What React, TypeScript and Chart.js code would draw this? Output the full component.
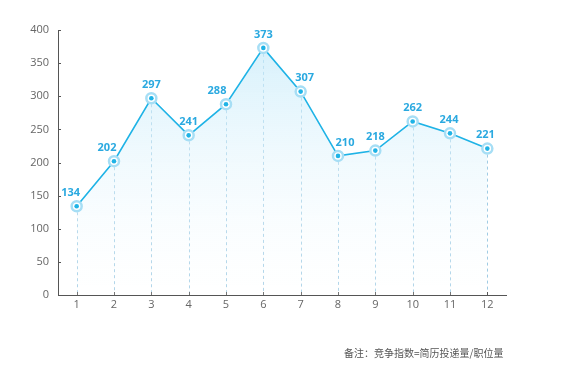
import React, { useEffect, useRef } from "react";
import { Chart, registerables } from "chart.js";
Chart.register(...registerables);

const categories = ["1", "2", "3", "4", "5", "6", "7", "8", "9", "10", "11", "12"];
const values = [134, 202, 297, 241, 288, 373, 307, 210, 218, 262, 244, 221];
const yTicks = [0, 50, 100, 150, 200, 250, 300, 350, 400];
const note = "备注：竞争指数=简历投递量/职位量";

const LINE = "#1fb3e6";
const LABEL = "#2aa9e0";
const FONT = "'Open Sans', 'Noto Sans', sans-serif";
// horizontal nudges of value labels (style, keeps labels off the line)
const labelNudge = [-6, -7, 0, 0, -9, 0, 4, 7, 0, 0, -1, -2];

const decor = {
  id: "decor",
  beforeDatasetsDraw(chart: any) {
    const { ctx, chartArea } = chart;
    const meta = chart.getDatasetMeta(0);
    ctx.save();
    ctx.setLineDash([3, 3]);
    ctx.strokeStyle = "rgba(60,150,200,0.5)";
    ctx.lineWidth = 1;
    meta.data.forEach((p: any) => {
      ctx.beginPath();
      ctx.moveTo(Math.round(p.x) + 0.5, p.y);
      ctx.lineTo(Math.round(p.x) + 0.5, chartArea.bottom);
      ctx.stroke();
    });
    ctx.setLineDash([]);
    ctx.strokeStyle = "#555";
    const xs = chart.scales.x;
    const ys = chart.scales.y;
    xs.ticks.forEach((_t: any, i: number) => {
      const x = Math.round(xs.getPixelForTick(i)) + 0.5;
      ctx.beginPath();
      ctx.moveTo(x, chartArea.bottom);
      ctx.lineTo(x, chartArea.bottom - 3);
      ctx.stroke();
    });
    ys.ticks.forEach((_t: any, i: number) => {
      const y = Math.round(ys.getPixelForTick(i)) + 0.5;
      ctx.beginPath();
      ctx.moveTo(chartArea.left, y);
      ctx.lineTo(chartArea.left + 3, y);
      ctx.stroke();
    });
    ctx.restore();
  },
  afterDatasetsDraw(chart: any) {
    const { ctx } = chart;
    const meta = chart.getDatasetMeta(0);
    const data = chart.data.datasets[0].data;
    ctx.save();
    meta.data.forEach((p: any, i: number) => {
      ctx.beginPath();
      ctx.arc(p.x, p.y, 2.3, 0, Math.PI * 2);
      ctx.fillStyle = LINE;
      ctx.fill();
      ctx.font = `bold 11px ${FONT}`;
      ctx.fillStyle = LABEL;
      ctx.textAlign = "center";
      ctx.textBaseline = "bottom";
      ctx.fillText(String(data[i]), p.x + labelNudge[i], p.y - 8);
    });
    ctx.restore();
  },
};

export default function App() {
  const ref = useRef<HTMLCanvasElement>(null);
  useEffect(() => {
    document.body.style.margin = "0";
    const chart = new Chart(ref.current!, {
      type: "line",
      data: {
        labels: categories,
        datasets: [
          {
            data: values,
            borderColor: LINE,
            borderWidth: 1.6,
            tension: 0,
            fill: "origin",
            backgroundColor: (c: any) => {
              const { chart } = c;
              const area = chart.chartArea;
              if (!area) return "rgba(200,235,250,0.5)";
              const g = chart.ctx.createLinearGradient(0, area.top, 0, area.bottom);
              g.addColorStop(0, "rgba(196,234,250,0.75)");
              g.addColorStop(1, "rgba(255,255,255,0.2)");
              return g;
            },
            pointRadius: 5,
            pointBackgroundColor: "#ffffff",
            pointBorderColor: "#a6def5",
            pointBorderWidth: 2.5,
          },
        ],
      },
      options: {
        animation: false,
        responsive: false,
        maintainAspectRatio: false,
        layout: { padding: { top: 30, right: 57, bottom: 65, left: 0 } },
        plugins: { legend: { display: false }, tooltip: { enabled: false } },
        scales: {
          x: {
            offset: true,
            grid: { display: false, drawTicks: false },
            border: { display: true, color: "#555", width: 1 },
            ticks: { color: "#666", font: { size: 11, family: FONT }, padding: 3 },
            afterFit: (s: any) => { s.height = 19; },
          },
          y: {
            min: 0,
            max: 400,
            afterBuildTicks: (s: any) => { s.ticks = yTicks.map((v) => ({ value: v })); },
            grid: { display: false, drawTicks: false },
            border: { display: true, color: "#555", width: 1 },
            ticks: { color: "#666", font: { size: 11, family: FONT }, padding: 9 },
            afterFit: (s: any) => { s.width = 58; },
          },
        },
      },
      plugins: [decor],
    });
    return () => chart.destroy();
  }, []);
  return (
    <div style={{ position: "relative", width: 563, height: 379, background: "#fff" }}>
      <canvas ref={ref} width={563} height={379} style={{ display: "block" }} />
      <div
        style={{
          position: "absolute",
          left: 344,
          top: 345,
          fontSize: 10,
          color: "#555",
          fontFamily: "'Noto Sans CJK SC', sans-serif",
          whiteSpace: "nowrap",
        }}
      >
        {note}
      </div>
    </div>
  );
}
